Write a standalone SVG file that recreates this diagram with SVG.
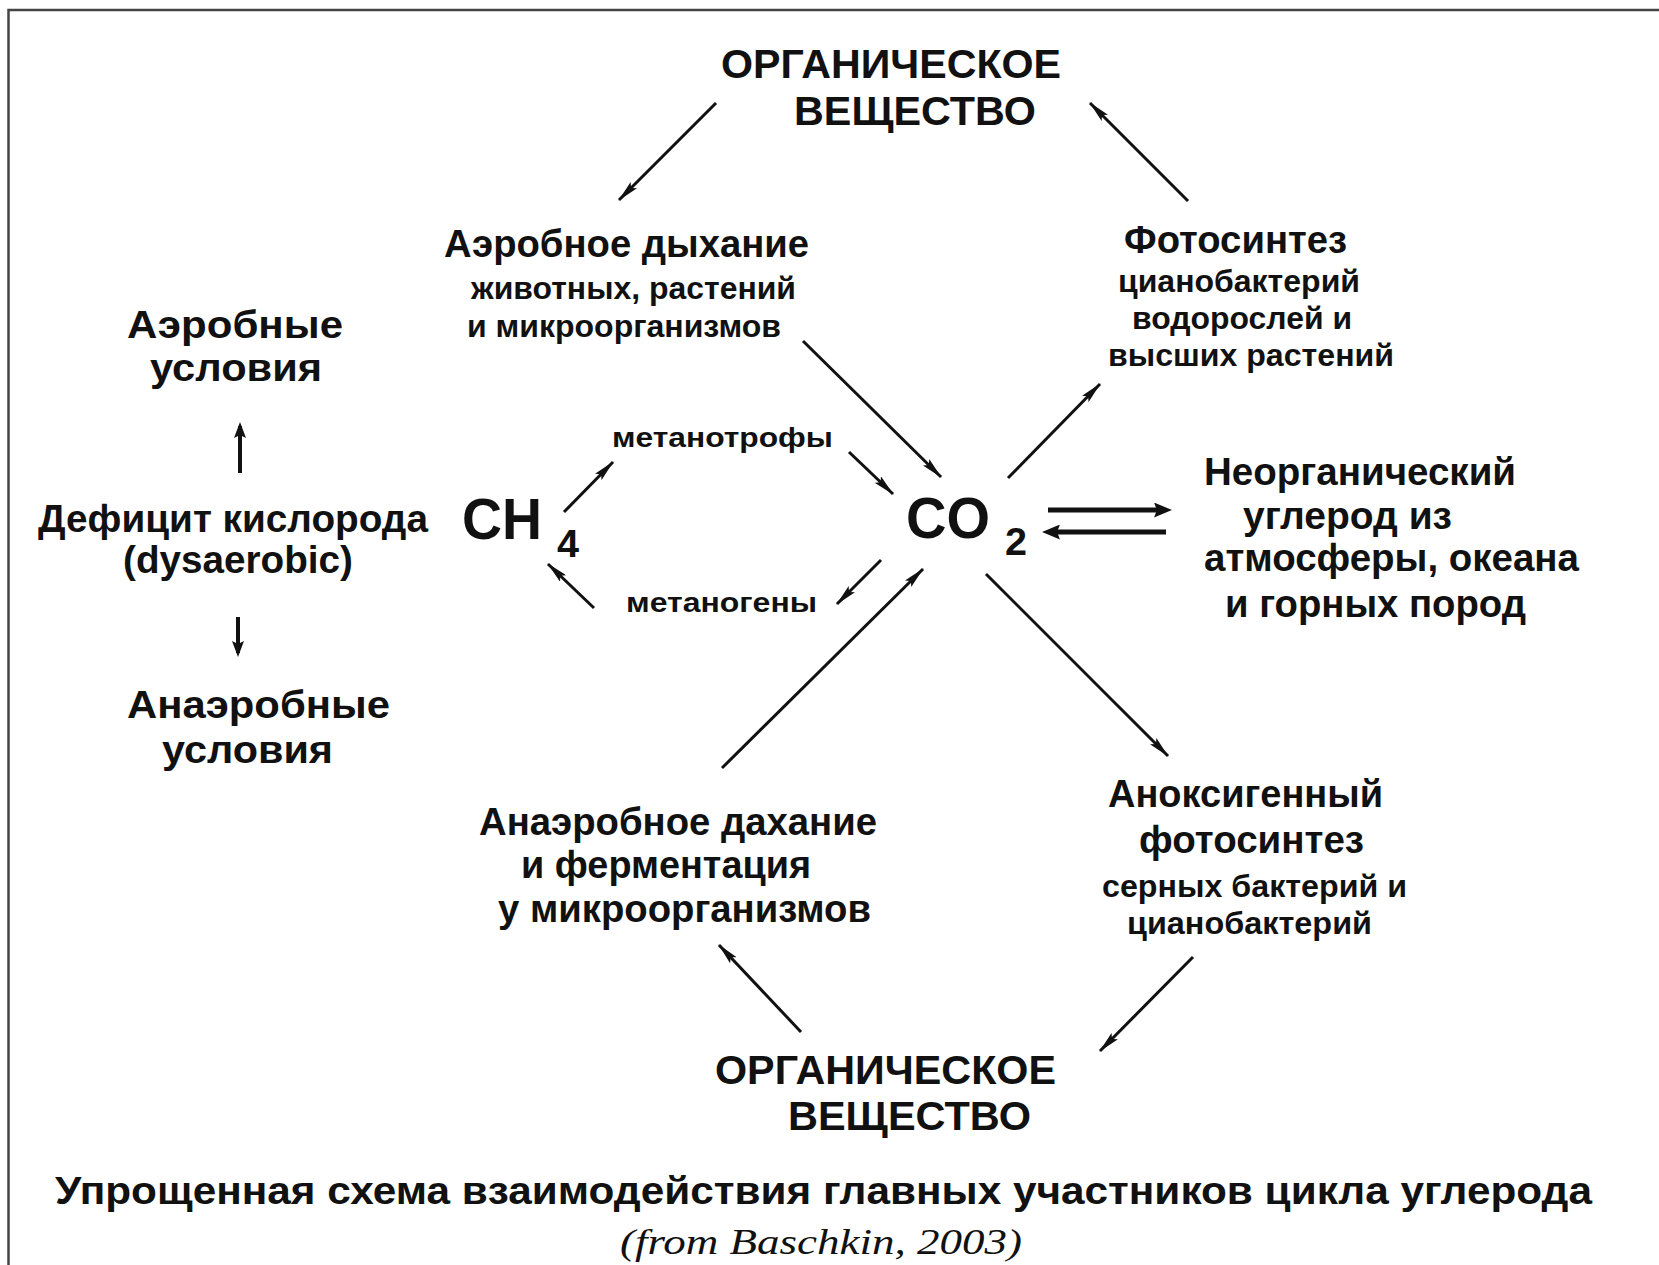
<svg xmlns="http://www.w3.org/2000/svg" width="1659" height="1265" viewBox="0 0 1659 1265">
<style>
text{font-family:"Liberation Sans",Arial,sans-serif;font-weight:bold;fill:#111}
.h{font-size:40px}
.b{font-size:38px}
.s{font-size:31px}
.m{font-size:28px}
.f{font-size:58px}
.sub{font-size:38px}
.t{font-size:38px}
.c{font-family:"Liberation Serif","Times New Roman",serif;font-style:italic;font-weight:normal;font-size:36px}
.ln{stroke:#111;stroke-width:3;fill:none;marker-end:url(#ah)}
.lv{stroke:#111;stroke-width:4;fill:none;marker-end:url(#av)}
.lt{stroke:#111;stroke-width:5;fill:none;marker-end:url(#at)}
.frame{stroke:#444;stroke-width:2.5;fill:none}
</style>
<defs>
<marker id="ah" viewBox="0 0 22 9" refX="21" refY="4.5" markerWidth="22" markerHeight="9" markerUnits="userSpaceOnUse" orient="auto"><path d="M0,0 L22,4.5 L0,9 L4,4.5 Z" fill="#111"/></marker>
<marker id="av" viewBox="0 0 16 12" refX="12" refY="6" markerWidth="16" markerHeight="12" markerUnits="userSpaceOnUse" orient="auto"><path d="M0,0 L16,6 L0,12 L3,6 Z" fill="#111"/></marker>
<marker id="at" viewBox="0 0 18 15" refX="8" refY="7.5" markerWidth="18" markerHeight="15" markerUnits="userSpaceOnUse" orient="auto"><path d="M0,0 L18,7.5 L0,15 L3,7.5 Z" fill="#111"/></marker>
</defs>
<rect width="1659" height="1265" fill="#fff"/>
<path class="frame" d="M8.5,1265 L8.5,10 L1659,10"/>

<g id="organic-top">
<text class="h" x="721" y="78" textLength="340" lengthAdjust="spacingAndGlyphs">ОРГАНИЧЕСКОЕ</text>
<text class="h" x="794" y="125" textLength="242" lengthAdjust="spacingAndGlyphs">ВЕЩЕСТВО</text>
</g>
<g id="aerobic-respiration">
<text class="b" x="444" y="257" textLength="365" lengthAdjust="spacingAndGlyphs">Аэробное дыхание</text>
<text class="s" x="471" y="299" textLength="325" lengthAdjust="spacingAndGlyphs">животных, растений</text>
<text class="s" x="467" y="337" textLength="314" lengthAdjust="spacingAndGlyphs">и микроорганизмов</text>
</g>
<g id="photosynthesis">
<text class="b" x="1124" y="253" textLength="223" lengthAdjust="spacingAndGlyphs">Фотосинтез</text>
<text class="s" x="1118" y="292" textLength="242" lengthAdjust="spacingAndGlyphs">цианобактерий</text>
<text class="s" x="1132" y="329" textLength="220" lengthAdjust="spacingAndGlyphs">водорослей и</text>
<text class="s" x="1108" y="366" textLength="286" lengthAdjust="spacingAndGlyphs">высших растений</text>
</g>
<g id="aerobic-conditions">
<text class="b" x="127" y="338" textLength="216" lengthAdjust="spacingAndGlyphs">Аэробные</text>
<text class="b" x="150" y="381" textLength="172" lengthAdjust="spacingAndGlyphs">условия</text>
</g>
<g id="oxygen-deficit">
<text class="b" x="38" y="532" textLength="390" lengthAdjust="spacingAndGlyphs">Дефицит кислорода</text>
<text class="b" x="123" y="573" textLength="230" lengthAdjust="spacingAndGlyphs">(dysaerobic)</text>
</g>
<g id="anaerobic-conditions">
<text class="b" x="127" y="718" textLength="263" lengthAdjust="spacingAndGlyphs">Анаэробные</text>
<text class="b" x="162" y="763" textLength="171" lengthAdjust="spacingAndGlyphs">условия</text>
</g>
<g id="ch4">
<text class="f" x="462" y="539" textLength="80" lengthAdjust="spacingAndGlyphs">CH</text>
<text class="sub" x="557" y="557" textLength="22" lengthAdjust="spacingAndGlyphs">4</text>
</g>
<g id="co2">
<text class="f" x="906" y="538" textLength="84" lengthAdjust="spacingAndGlyphs">CO</text>
<text class="sub" x="1005" y="555" textLength="22" lengthAdjust="spacingAndGlyphs">2</text>
</g>
<g id="methanotrophs">
<text class="m" x="612" y="447" textLength="221" lengthAdjust="spacingAndGlyphs">метанотрофы</text>
</g>
<g id="methanogens">
<text class="m" x="626" y="612" textLength="191" lengthAdjust="spacingAndGlyphs">метаногены</text>
</g>
<g id="inorganic-carbon">
<text class="b" x="1204" y="485" textLength="312" lengthAdjust="spacingAndGlyphs">Неорганический</text>
<text class="b" x="1243" y="529" textLength="209" lengthAdjust="spacingAndGlyphs">углерод из</text>
<text class="b" x="1204" y="571" textLength="375" lengthAdjust="spacingAndGlyphs">атмосферы, океана</text>
<text class="b" x="1225" y="617" textLength="301" lengthAdjust="spacingAndGlyphs">и горных пород</text>
</g>
<g id="anaerobic-respiration">
<text class="b" x="479" y="835" textLength="398" lengthAdjust="spacingAndGlyphs">Анаэробное дахание</text>
<text class="b" x="521" y="878" textLength="290" lengthAdjust="spacingAndGlyphs">и ферментация</text>
<text class="b" x="498" y="922" textLength="373" lengthAdjust="spacingAndGlyphs">у микроорганизмов</text>
</g>
<g id="anoxygenic-photosynthesis">
<text class="b" x="1108" y="807" textLength="275" lengthAdjust="spacingAndGlyphs">Аноксигенный</text>
<text class="b" x="1139" y="853" textLength="225" lengthAdjust="spacingAndGlyphs">фотосинтез</text>
<text class="s" x="1102" y="897" textLength="305" lengthAdjust="spacingAndGlyphs">серных бактерий и</text>
<text class="s" x="1127" y="934" textLength="245" lengthAdjust="spacingAndGlyphs">цианобактерий</text>
</g>
<g id="organic-bottom">
<text class="h" x="715" y="1084" textLength="341" lengthAdjust="spacingAndGlyphs">ОРГАНИЧЕСКОЕ</text>
<text class="h" x="788" y="1130" textLength="243" lengthAdjust="spacingAndGlyphs">ВЕЩЕСТВО</text>
</g>
<g id="caption">
<text class="t" x="55" y="1204" textLength="1537" lengthAdjust="spacingAndGlyphs">Упрощенная схема взаимодействия главных участников цикла углерода</text>
<text class="c" x="620" y="1254" textLength="402" lengthAdjust="spacingAndGlyphs">(from Baschkin, 2003)</text>
</g>

<g id="connectors">
<line class="ln" x1="716" y1="103" x2="619" y2="200"/>
<line class="ln" x1="1188" y1="201" x2="1090" y2="103"/>
<line class="ln" x1="803" y1="341" x2="941" y2="477"/>
<line class="ln" x1="1008" y1="478" x2="1100" y2="384"/>
<line class="ln" x1="722" y1="768" x2="923" y2="569"/>
<line class="ln" x1="986" y1="574" x2="1168" y2="756"/>
<line class="ln" x1="1193" y1="957" x2="1100" y2="1051"/>
<line class="ln" x1="801" y1="1032" x2="719" y2="945"/>
<line class="ln" x1="564" y1="512" x2="613" y2="462"/>
<line class="ln" x1="849" y1="452" x2="893" y2="494"/>
<line class="ln" x1="881" y1="560" x2="837" y2="604"/>
<line class="ln" x1="594" y1="608" x2="548" y2="564"/>
<line class="lv" x1="240" y1="473" x2="240" y2="426"/>
<line class="lv" x1="238" y1="617" x2="238" y2="653"/>
<line class="lt" x1="1048" y1="510" x2="1162" y2="510"/>
<line class="lt" x1="1166" y1="532" x2="1052" y2="532"/>
</g>
</svg>
